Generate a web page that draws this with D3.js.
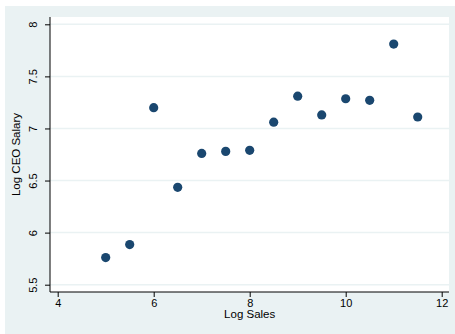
<!DOCTYPE html>
<html><head><meta charset="utf-8">
<script src="https://cdn.jsdelivr.net/npm/d3@7"></script>
<style>body{margin:0;background:#fff}text{font-family:"Liberation Sans",Arial,sans-serif}</style>
</head><body>
<svg id="c" width="455" height="334"></svg>
<script>
const logSales = [5, 5.5, 6, 6.5, 7, 7.5, 8, 8.5, 9, 9.5, 10, 10.5, 11, 11.5];
const logSalary = [5.76, 5.885, 7.2, 6.435, 6.76, 6.78, 6.79, 7.06, 7.31, 7.13, 7.285, 7.27, 7.81, 7.11];
const xTicks = [4, 6, 8, 10, 12];
const yTicks = [5.5, 6, 6.5, 7, 7.5, 8];
const xTitle = "Log Sales";
const yTitle = "Log CEO Salary";

const svg = d3.select("#c");
svg.append("rect").attr("x",5).attr("y",6).attr("width",450).attr("height",328).attr("fill","#eaf2f3");
const pl = 50, pr = 449, pt = 17, pb = 292;
svg.append("rect").attr("x",pl).attr("y",pt).attr("width",pr-pl).attr("height",pb-pt).attr("fill","#fff");

const x = d3.scaleLinear().domain([4,12]).range([57.7,441.7]);
const y = d3.scaleLinear().domain([5.5,8]).range([284.7,24.3]);

// gridlines
svg.append("g").selectAll("line").data(yTicks).join("line")
  .attr("x1",pl).attr("x2",pr).attr("y1",d=>y(d)).attr("y2",d=>y(d))
  .attr("stroke","#eaf2f3").attr("stroke-width",1.5);

// axes
const xa = svg.append("g").attr("transform",`translate(0,${pb})`)
  .call(d3.axisBottom(x).tickValues(xTicks).tickSize(5).tickPadding(2).tickFormat(d3.format("d")));
xa.select(".domain").attr("d",`M${pl},0H${pr}`).attr("stroke","#000");
xa.selectAll("text").attr("font-size",11).attr("fill","#000");

const ya = svg.append("g").attr("transform",`translate(${pl},0)`)
  .call(d3.axisLeft(y).tickValues(yTicks).tickSize(5).tickPadding(3).tickFormat(d=>String(d)));
ya.select(".domain").attr("d",`M0,${pt}V${pb}`).attr("stroke","#000");
ya.selectAll("text").attr("font-size",11).attr("fill","#000")
  .attr("text-anchor","middle").attr("dy","0").attr("x",0).attr("y",0)
  .attr("transform","translate(-13,0) rotate(-90)");

// titles
svg.append("text").attr("x",(x(4)+x(12))/2).attr("y",318).attr("text-anchor","middle")
  .attr("font-size",11.5).text(xTitle);
svg.append("text").attr("transform",`translate(20,${(pt+pb)/2}) rotate(-90)`).attr("text-anchor","middle")
  .attr("font-size",11.5).text(yTitle);

// points
svg.append("g").selectAll("circle").data(logSales.map((d,i)=>[d,logSalary[i]])).join("circle")
  .attr("cx",d=>x(d[0])).attr("cy",d=>y(d[1])).attr("r",4.6).attr("fill","#1a476f");
</script>
</body></html>
